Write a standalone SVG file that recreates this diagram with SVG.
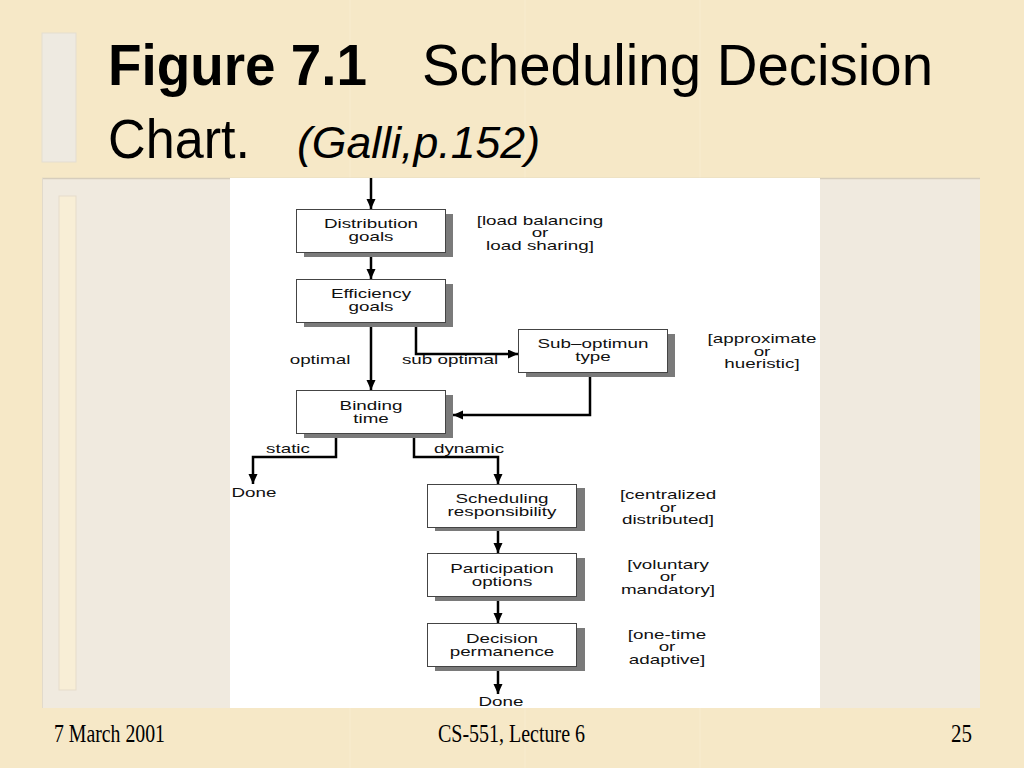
<svg xmlns="http://www.w3.org/2000/svg" width="1024" height="768" viewBox="0 0 1024 768">
<defs>
<marker id="ah" markerUnits="userSpaceOnUse" markerWidth="11" markerHeight="10" refX="10" refY="4.5" orient="auto">
<path d="M0,0 L10,4.5 L0,9 z" fill="#000"/>
</marker>
</defs>
<style>
.t{font-family:"Liberation Sans",Arial,sans-serif;font-size:12px;fill:#111;text-anchor:middle}
.box{fill:#fff;stroke:#444;stroke-width:1}
.sh{fill:#7a7a7a}
.c{fill:none;stroke:#000;stroke-width:2.5;marker-end:url(#ah)}
.ft{font-family:"Liberation Serif","Times New Roman",serif;font-size:26px;fill:#000}
.ttl{font-family:"Liberation Sans",Arial,sans-serif;fill:#000}
</style>
<rect x="0" y="0" width="1024" height="768" fill="#f6e8c7"/>
<g opacity="0.35" stroke="#fff6e0" stroke-width="1">
<line x1="350" y1="0" x2="350" y2="768"/><line x1="525" y1="0" x2="525" y2="768"/><line x1="700" y1="0" x2="700" y2="768"/>
</g>
<rect x="42" y="33" width="34" height="129" fill="#eeeae1" stroke="#e4ddd0" stroke-width="1"/>
<rect x="42" y="178" width="938" height="530" fill="#f0eadf"/>
<line x1="42" y1="178.5" x2="980" y2="178.5" stroke="#d6cdbd" stroke-width="1.5"/>
<line x1="42.5" y1="178" x2="42.5" y2="708" stroke="#e2dacb" stroke-width="1"/>
<rect x="59" y="196" width="17" height="494" fill="#f8eed6" stroke="#e6dccb" stroke-width="1"/>
<rect x="230" y="178" width="590" height="530" fill="#fff"/>

<g id="title">
<text class="ttl" x="108" y="85" font-size="57" font-weight="bold" textLength="259" lengthAdjust="spacingAndGlyphs">Figure 7.1</text>
<text class="ttl" x="422" y="85" font-size="57" textLength="511" lengthAdjust="spacingAndGlyphs">Scheduling Decision</text>
<text class="ttl" x="108" y="158" font-size="56" textLength="142" lengthAdjust="spacingAndGlyphs">Chart.</text>
<text class="ttl" x="297" y="158" font-size="45" font-style="italic" textLength="243" lengthAdjust="spacingAndGlyphs">(Galli,p.152)</text>
</g>

<g id="connectors">
<path class="c" d="M371,178 V209"/>
<path class="c" d="M371,252 V279"/>
<path class="c" d="M371,322 V390"/>
<path class="c" d="M416,322 V354 H518"/>
<path class="c" d="M590,372 V415 H453"/>
<path class="c" d="M336,433 V457 H253 V484"/>
<path class="c" d="M414,433 V457 H498 V484"/>
<path class="c" d="M498,527 V553"/>
<path class="c" d="M498,597 V623"/>
<path class="c" d="M498,667 V694"/>
</g>

<g id="edge-labels">
<text class="t" transform="translate(320,364) scale(1.57,1)">optimal</text>
<text class="t" transform="translate(450,364) scale(1.57,1)">sub optimal</text>
<text class="t" transform="translate(288,453) scale(1.57,1)">static</text>
<text class="t" transform="translate(469,453) scale(1.57,1)">dynamic</text>
</g>

<g id="n-distribution">
<rect class="sh" x="304" y="214" width="149" height="43"/>
<rect class="box" x="296.5" y="209.5" width="149" height="43"/>
<text class="t" transform="translate(371,228) scale(1.57,1)">Distribution</text>
<text class="t" transform="translate(371,241) scale(1.57,1)">goals</text>
</g>
<g id="n-distribution-note">
<text class="t" transform="translate(540,225) scale(1.57,1)">[load balancing</text>
<text class="t" transform="translate(540,237) scale(1.57,1)">or</text>
<text class="t" transform="translate(540,250) scale(1.57,1)">load sharing]</text>
</g>

<g id="n-efficiency">
<rect class="sh" x="304" y="284" width="149" height="43"/>
<rect class="box" x="296.5" y="279.5" width="149" height="43"/>
<text class="t" transform="translate(371,298) scale(1.57,1)">Efficiency</text>
<text class="t" transform="translate(371,311) scale(1.57,1)">goals</text>
</g>

<g id="n-suboptimum">
<rect class="sh" x="526" y="334" width="149" height="43"/>
<rect class="box" x="518.5" y="329.5" width="149" height="43"/>
<text class="t" transform="translate(593,348) scale(1.57,1)">Sub–optimun</text>
<text class="t" transform="translate(593,361) scale(1.57,1)">type</text>
</g>
<g id="n-suboptimum-note">
<text class="t" transform="translate(762,343) scale(1.57,1)">[approximate</text>
<text class="t" transform="translate(762,356) scale(1.57,1)">or</text>
<text class="t" transform="translate(762,368) scale(1.57,1)">hueristic]</text>
</g>

<g id="n-binding">
<rect class="sh" x="304" y="395" width="149" height="43"/>
<rect class="box" x="296.5" y="390.5" width="149" height="43"/>
<text class="t" transform="translate(371,410) scale(1.57,1)">Binding</text>
<text class="t" transform="translate(371,423) scale(1.57,1)">time</text>
</g>

<g id="n-done1">
<text class="t" transform="translate(254,497) scale(1.57,1)">Done</text>
</g>

<g id="n-scheduling">
<rect class="sh" x="435" y="488" width="150" height="43"/>
<rect class="box" x="427.5" y="484.5" width="149" height="43"/>
<text class="t" transform="translate(502,503) scale(1.57,1)">Scheduling</text>
<text class="t" transform="translate(502,516) scale(1.57,1)">responsibility</text>
</g>
<g id="n-scheduling-note">
<text class="t" transform="translate(668,499) scale(1.57,1)">[centralized</text>
<text class="t" transform="translate(668,512) scale(1.57,1)">or</text>
<text class="t" transform="translate(668,524) scale(1.57,1)">distributed]</text>
</g>

<g id="n-participation">
<rect class="sh" x="435" y="558" width="150" height="43"/>
<rect class="box" x="427.5" y="553.5" width="149" height="43"/>
<text class="t" transform="translate(502,573) scale(1.57,1)">Participation</text>
<text class="t" transform="translate(502,586) scale(1.57,1)">options</text>
</g>
<g id="n-participation-note">
<text class="t" transform="translate(668,569) scale(1.57,1)">[voluntary</text>
<text class="t" transform="translate(668,581) scale(1.57,1)">or</text>
<text class="t" transform="translate(668,594) scale(1.57,1)">mandatory]</text>
</g>

<g id="n-decision">
<rect class="sh" x="435" y="628" width="150" height="43"/>
<rect class="box" x="427.5" y="623.5" width="149" height="43"/>
<text class="t" transform="translate(502,643) scale(1.57,1)">Decision</text>
<text class="t" transform="translate(502,656) scale(1.57,1)">permanence</text>
</g>
<g id="n-decision-note">
<text class="t" transform="translate(667,639) scale(1.57,1)">[one-time</text>
<text class="t" transform="translate(667,651) scale(1.57,1)">or</text>
<text class="t" transform="translate(667,664) scale(1.57,1)">adaptive]</text>
</g>

<g id="n-done2">
<text class="t" transform="translate(501,706) scale(1.57,1)">Done</text>
</g>

<g id="footer">
<text class="ft" x="54" y="742" textLength="111" lengthAdjust="spacingAndGlyphs">7 March 2001</text>
<text class="ft" x="438" y="742" textLength="147" lengthAdjust="spacingAndGlyphs">CS-551, Lecture 6</text>
<text class="ft" x="951" y="742" textLength="21" lengthAdjust="spacingAndGlyphs">25</text>
</g>
</svg>
